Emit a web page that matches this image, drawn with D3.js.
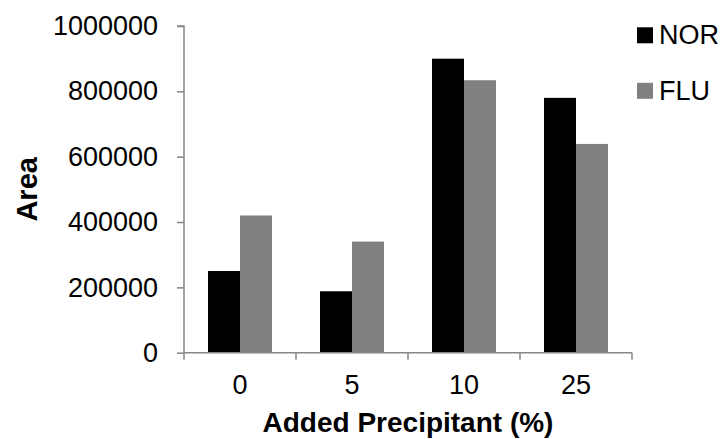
<!DOCTYPE html>
<html>
<head>
<meta charset="utf-8">
<script src="https://cdn.jsdelivr.net/npm/d3@7"></script>
<style>
  body { margin: 0; background: #fff; }
  svg { display: block; font-family: 'Liberation Sans', Arial, sans-serif; }
</style>
</head>
<body>
<div id="chart"></div>
<script>
const categories = ['0', '5', '10', '25'];
const seriesNames = ['NOR', 'FLU'];
const norValues = [250000, 188000, 900000, 780000];
const fluValues = [420000, 340000, 834000, 639000];
const yTicks = [0, 200000, 400000, 600000, 800000, 1000000];

const colors = { NOR: '#000000', FLU: '#808080' };
const axisColor = '#868686';

const width = 726;
const height = 439;
const plotLeft = 184;
const plotRight = 632;
const plotTop = 26;
const plotBottom = 352.7;

const svg = d3.select('#chart')
  .append('svg')
  .attr('width', width)
  .attr('height', height);

const x = d3.scaleBand()
  .domain(categories)
  .range([plotLeft, plotRight])
  .padding(0);

const xSub = d3.scaleBand()
  .domain(seriesNames)
  .range([0, x.bandwidth()])
  .paddingInner(0)
  .paddingOuter(0.75);

const y = d3.scaleLinear()
  .domain([0, 1000000])
  .range([plotBottom, plotTop]);

const rows = categories.map((c, i) => ({ cat: c, NOR: norValues[i], FLU: fluValues[i] }));

// bars
const group = svg.selectAll('.group')
  .data(rows)
  .enter().append('g')
  .attr('class', 'group')
  .attr('transform', d => 'translate(' + x(d.cat) + ',0)');

group.selectAll('rect')
  .data(d => seriesNames.map(s => ({ key: s, value: d[s] })))
  .enter().append('rect')
  .attr('x', d => xSub(d.key))
  .attr('y', d => y(d.value))
  .attr('width', xSub.bandwidth())
  .attr('height', d => plotBottom - y(d.value))
  .style('fill', d => colors[d.key]);

// y axis
const yAxis = svg.append('g')
  .attr('transform', 'translate(' + plotLeft + ',0)')
  .call(d3.axisLeft(y).tickValues(yTicks).tickFormat(d3.format('d')).tickSize(7).tickPadding(19));

yAxis.select('.domain').attr('stroke', axisColor).attr('stroke-width', 1.5)
  .attr('d', 'M-7,' + plotTop + 'H0V' + plotBottom);
yAxis.selectAll('.tick line').attr('stroke', axisColor).attr('stroke-width', 1.5);
yAxis.selectAll('.tick text')
  .attr('fill', '#000')
  .style('font-size', '27px');

// x axis
const xAxis = svg.append('g')
  .attr('transform', 'translate(0,' + plotBottom + ')')
  .call(d3.axisBottom(x).tickSize(0).tickPadding(22));

xAxis.select('.domain').attr('stroke', axisColor).attr('stroke-width', 1.5)
  .attr('d', 'M' + plotLeft + ',0H' + plotRight);
xAxis.selectAll('.tick text')
  .attr('fill', '#000')
  .style('font-size', '27px');

const boundaries = categories.map(c => x(c)).concat([plotRight]);
xAxis.selectAll('.bound')
  .data(boundaries)
  .enter().append('line')
  .attr('class', 'bound')
  .attr('x1', d => d)
  .attr('x2', d => d)
  .attr('y1', 0)
  .attr('y2', 7)
  .attr('stroke', axisColor)
  .attr('stroke-width', 1.5);

// axis titles
svg.append('text')
  .attr('x', (plotLeft + plotRight) / 2)
  .attr('y', 432)
  .attr('text-anchor', 'middle')
  .style('font-size', '28px')
  .style('font-weight', 'bold')
  .text('Added Precipitant (%)');

svg.append('text')
  .attr('transform', 'translate(37,' + (plotTop + plotBottom) / 2 + ') rotate(-90)')
  .attr('text-anchor', 'middle')
  .style('font-size', '29px')
  .style('font-weight', 'bold')
  .text('Area');

// legend
const legend = svg.selectAll('.legend')
  .data(seriesNames)
  .enter().append('g')
  .attr('class', 'legend')
  .attr('transform', (d, i) => 'translate(637,' + (27.3 + i * 55.5) + ')');

legend.append('rect')
  .attr('width', 16)
  .attr('height', 16)
  .style('fill', d => colors[d]);

legend.append('text')
  .attr('x', 22)
  .attr('y', 17)
  .style('font-size', '27px')
  .text(d => d);
</script>
</body>
</html>
